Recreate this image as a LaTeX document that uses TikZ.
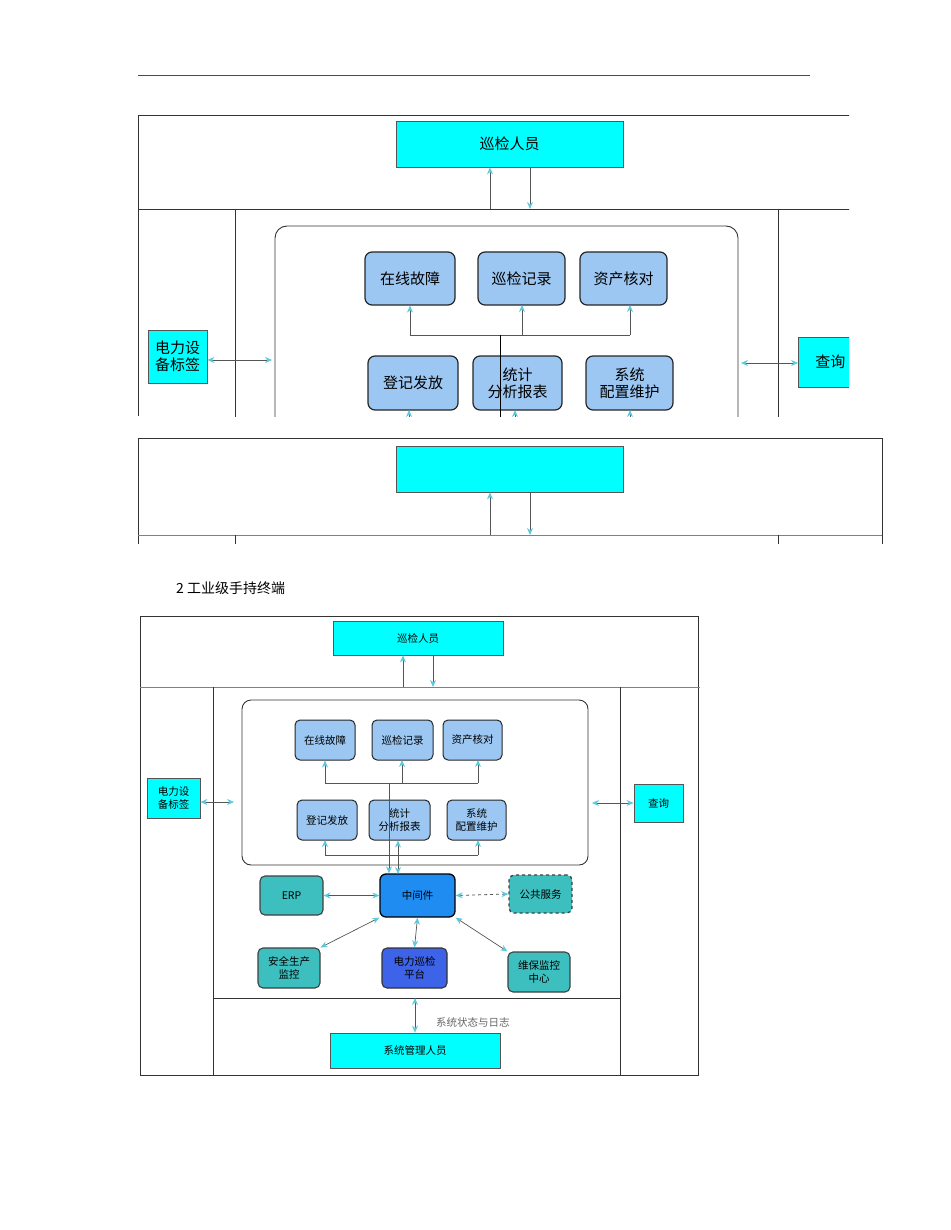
\documentclass[tikz,border=0pt]{standalone}
\usepackage{fontspec}
\setmainfont{Liberation Sans}
\newfontfamily\cjk{Noto Sans CJK SC}
\usetikzlibrary{arrows.meta}
\definecolor{cy}{HTML}{00FFFF}
\definecolor{lb}{HTML}{9CC7F2}
\definecolor{tl}{HTML}{3DBFBF}
\definecolor{mw}{HTML}{1E8CF0}
\definecolor{pf}{HTML}{3D63E8}
\definecolor{tip}{HTML}{5CC8DC}
\definecolor{ln}{HTML}{555555}
\begin{document}
\begin{tikzpicture}[x=1pt,y=-1pt,
  every node/.style={font=\cjk},
  cbox/.style={draw=ln,fill=cy,line width=0.8pt,minimum height=#1},
  mod/.style={draw=black!85,fill=lb,rounded corners=7pt,line width=1.2pt,align=center,inner sep=1pt},
  tbox/.style={draw=black!75,fill=tl,rounded corners=5pt,line width=1.1pt,align=center,inner sep=1pt},
  ar/.style={draw=ln,line width=0.7pt,-{Stealth[length=7pt,width=6pt,color=tip]}},
  dar/.style={draw=ln,line width=0.7pt,{Stealth[length=7pt,width=6pt,color=tip]}-{Stealth[length=7pt,width=6pt,color=tip]}},
  frame/.style={draw=black!80,line width=0.9pt}]
\useasboundingbox (0,0) rectangle (950,1230);
\draw[draw=black!70,line width=0.6pt] (138,75) -- (810,75);
% ---------- first (cut) diagram ----------
\begin{scope}
\clip (136,110) rectangle (849,416);
\draw[frame] (138,416) -- (138,115) -- (860,115);
\draw[frame] (138,209) -- (860,209);
\draw[frame] (235,209) -- (235,420) (778,209) -- (778,420);
\draw[frame,rounded corners=12pt] (275,430) -- (275,226) -- (738,226) -- (738,430);
\node[cbox=46pt,minimum width=227pt,font=\cjk\fontsize{15}{18}\selectfont] (p1) at (509.5,144) {巡检人员};
\coordinate (p1a) at (490,209); \coordinate (p1b) at (530,209);
\draw[ar] (p1a) -- (p1a|-p1.south);
\draw[ar] (p1b|-p1.south) -- (p1b);
\begin{scope}[every node/.append style={font=\cjk\fontsize{15}{17}\selectfont}]
\node[mod,minimum width=90pt,minimum height=53pt] (a1) at (410,278.5) {在线故障};
\node[mod,minimum width=87pt,minimum height=53pt] (a2) at (521.5,278.5) {巡检记录};
\node[mod,minimum width=87pt,minimum height=53pt] (a3) at (623.5,278.5) {资产核对};
\node[mod,minimum width=90pt,minimum height=54pt] (b1) at (413,383) {登记发放};
\node[mod,minimum width=89pt,minimum height=54pt] (b2) at (517.5,383) {统计\\分析报表};
\node[mod,minimum width=87pt,minimum height=54pt] (b3) at (629.5,383) {系统\\配置维护};
\node[cbox=53pt,minimum width=59pt,align=center,inner sep=1pt] (t1) at (177.5,356.5) {电力设\\备标签};
\node[cbox=50pt,minimum width=64pt,anchor=west] (q1) at (798,362) {查询};
\end{scope}
\coordinate (j1) at (410,335); \coordinate (j3) at (630,335);
\draw[draw=ln,line width=0.7pt] (j1) -- (j3);
\draw[ar] (j1) -- (a1.south);
\draw[ar] (522,335) -- (522,305);
\draw[ar] (j3) -- (630,305);
\draw[draw=black,line width=0.7pt] (500,335) -- (500,420);
\coordinate (l1) at (272,360); \coordinate (r1) at (741,363);
\draw[dar] (t1.east|-l1) -- (l1);
\draw[dar] (r1) -- (q1.west|-r1);
\draw[ar] (409,420) -- (409,410);
\draw[ar] (515,420) -- (515,410);
\draw[ar] (630,420) -- (630,410);
\end{scope}
\begin{scope}
\clip (136,436) rectangle (885,543);
\draw[frame] (138,550) -- (138,438) -- (882,438) -- (882,550);
\draw[draw=black!50,line width=0.9pt] (138,535) -- (882,535);
\draw[frame] (235,535) -- (235,550) (778,535) -- (778,550);
\node[cbox=46pt,minimum width=227pt] (p2) at (509.5,469) {};
\coordinate (p2a) at (490,535); \coordinate (p2b) at (530,535);
\draw[ar] (p2a) -- (p2a|-p2.south);
\draw[ar] (p2b|-p2.south) -- (p2b);
\end{scope}
% caption
\node[anchor=west,font=\cjk\fontsize{14}{16}\selectfont,inner sep=0] (cap) at (176,588) {2 工业级手持终端};
% ---------- second diagram ----------
\begin{scope}[every node/.append style={font=\cjk\fontsize{10.5}{12.5}\selectfont}]
\draw[frame] (140,616) rectangle (698,1075);
\draw[draw=black!50,line width=0.9pt] (140,687) -- (700,687);
\draw[frame] (213,687) -- (213,1075) (620,687) -- (620,1075);
\draw[frame] (213,998) -- (620,998);
\draw[frame,rounded corners=9pt] (242,700) rectangle (588,865);
\node[cbox=34pt,minimum width=170pt] (p3) at (418,638) {巡检人员};
\coordinate (p3a) at (403,687); \coordinate (p3b) at (433,687);
\draw[ar] (p3a) -- (p3a|-p3.south);
\draw[ar] (p3b|-p3.south) -- (p3b);
\node[mod,rounded corners=5pt,line width=1pt,minimum width=60pt,minimum height=40pt] (c1) at (325,740) {在线故障};
\node[mod,rounded corners=5pt,line width=1pt,minimum width=61pt,minimum height=40pt] (c2) at (402.5,740) {巡检记录};
\node[mod,rounded corners=5pt,line width=1pt,minimum width=59pt,minimum height=40pt] (c3) at (472.5,740) {资产核对};
\node[mod,rounded corners=5pt,line width=1pt,minimum width=60pt,minimum height=40pt] (d1) at (327,820) {登记发放};
\node[mod,rounded corners=5pt,line width=1pt,minimum width=61pt,minimum height=40pt] (d2) at (399.5,820) {统计\\分析报表};
\node[mod,rounded corners=5pt,line width=1pt,minimum width=59pt,minimum height=40pt] (d3) at (476.5,820) {系统\\配置维护};
\draw[draw=ln,line width=0.6pt] (325,783) -- (478,783);
\draw[ar] (325,783) -- (c1.south);
\draw[ar] (402,783) -- (402,760);
\draw[ar] (478,783) -- (478,760);
\draw[draw=ln,line width=0.6pt] (325,855) -- (478,855);
\draw[ar] (325,855) -- (325,840);
\draw[ar] (478,855) -- (478,840);
\node[cbox=40pt,minimum width=53pt,align=center,inner sep=1pt] (t2) at (173.5,798) {电力设\\备标签};
\node[cbox=38pt,minimum width=49pt] (q2) at (658.5,803) {查询};
\coordinate (l2) at (234,802);
\draw[dar] (t2.east|-l2) -- (l2);
\draw[dar] (592,803) -- (q2.west);
\node[tbox,minimum width=63pt,minimum height=39pt] (erp) at (291.5,895.5) {ERP};
\node[draw=black,fill=mw,rounded corners=6pt,line width=1.3pt,minimum width=75pt,minimum height=43pt] (mid) at (417.5,895.5) {中间件};
\node[tbox,dashed,line width=1.3pt,minimum width=63pt,minimum height=38pt] (pub) at (540.5,894) {公共服务};
\node[tbox,minimum width=62pt,minimum height=40pt] (saf) at (289,968) {安全生产\\监控};
\node[draw=black!80,fill=pf,rounded corners=5pt,line width=1.1pt,minimum width=65pt,minimum height=40pt,align=center,inner sep=1pt] (plat) at (414.5,968) {电力巡检\\平台};
\node[tbox,minimum width=62pt,minimum height=40pt] (mnt) at (539,972) {维保监控\\中心};
\coordinate (v1) at (389,783); \coordinate (v2) at (398,874);
\draw[ar] (v1) -- (v1|-mid.north);
\draw[dar] (v2) -- (v2|-d2.south);
\draw[dar] (erp.east) -- (mid.west);
\draw[draw=ln,line width=0.8pt,dashed,{Stealth[length=7pt,width=6pt,color=tip]}-{Stealth[length=7pt,width=6pt,color=tip]}] (mid.east) -- (pub.west);
\draw[dar] (mid.south west) -- (saf.north east);
\draw[dar] (mid.south) -- (plat.north);
\draw[dar] (mid.south east) -- (mnt.north west);
\node[cbox=35pt,minimum width=170pt] (adm) at (415,1050.5) {系统管理人员};
\coordinate (s1) at (415,998);
\draw[dar] (s1) -- (adm.north);
\node[anchor=west,text=black!60,inner sep=0] (lg) at (436,1022) {系统状态与日志};
\end{scope}
\end{tikzpicture}
\end{document}
